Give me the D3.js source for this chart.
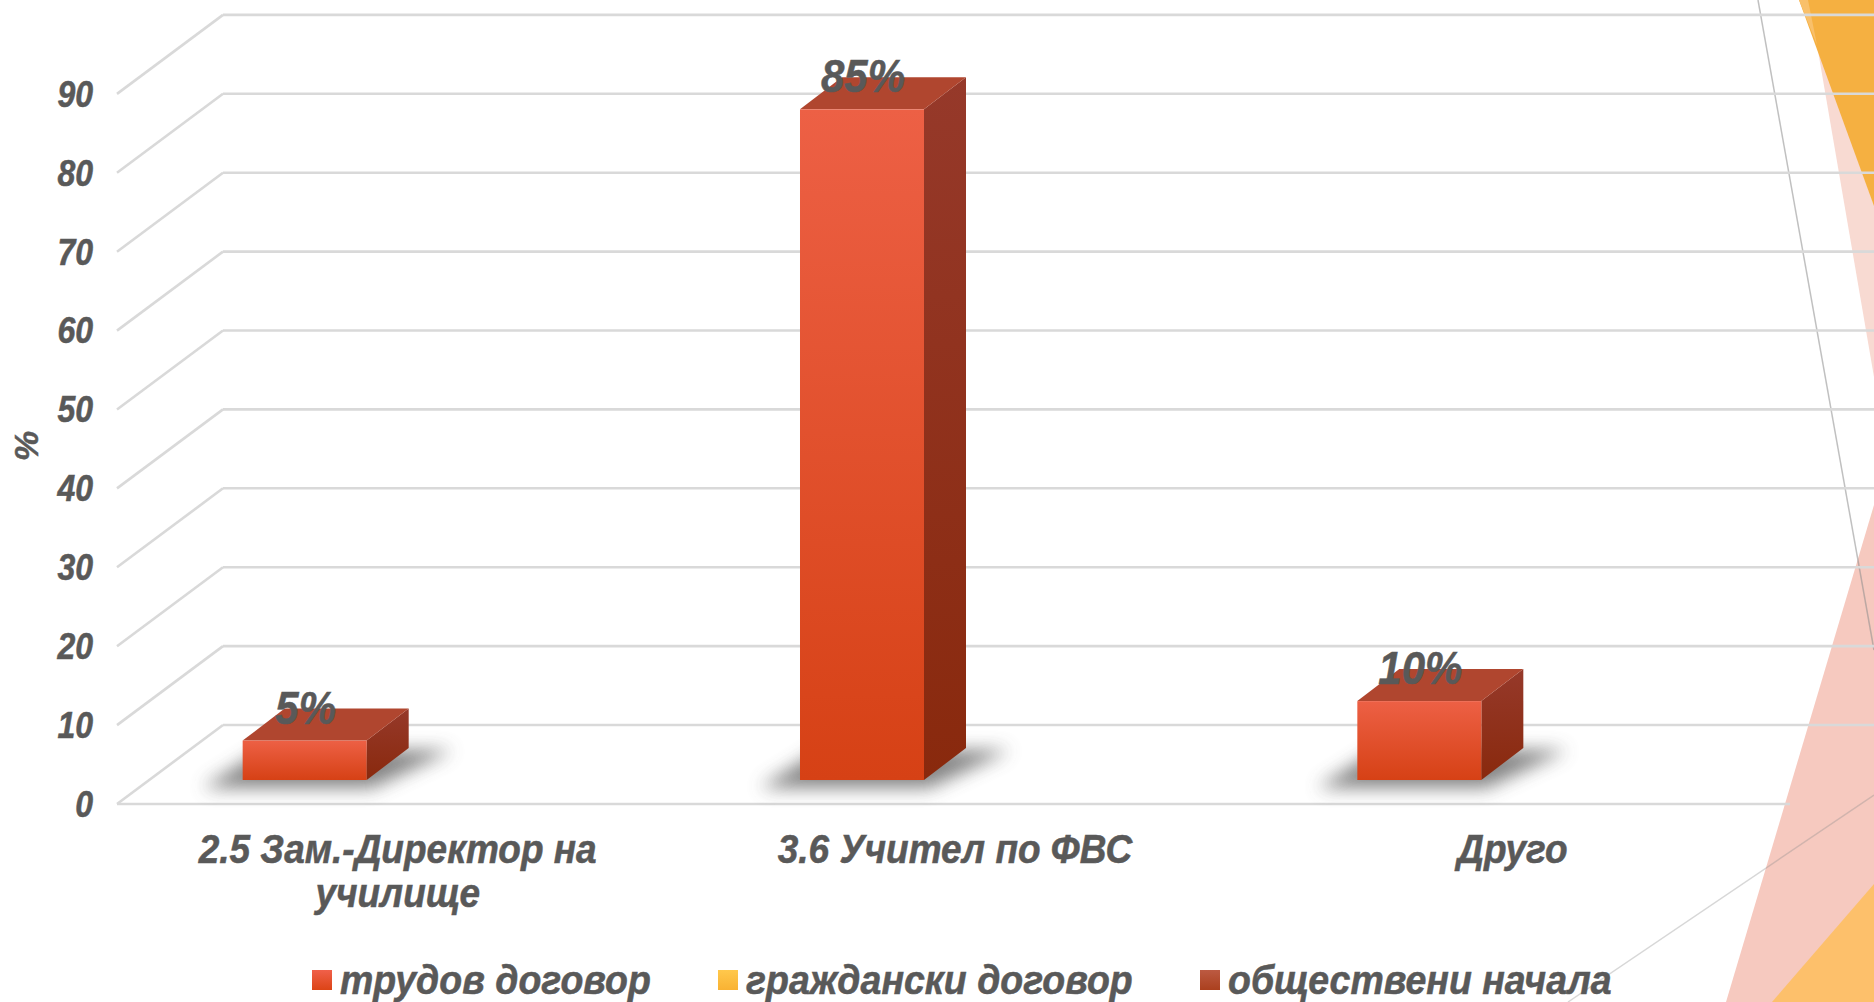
<!DOCTYPE html>
<html>
<head>
<meta charset="utf-8">
<script src="https://cdn.jsdelivr.net/npm/d3@7"></script>
<style>
  body { margin: 0; background: #fff; }
  text { font-family: "Liberation Sans", Arial, sans-serif; font-weight: bold; font-style: italic; fill: #595959; stroke: #595959; stroke-width: 0.5px; }
</style>
</head>
<body>
<svg id="chart" width="1874" height="1002"></svg>
<script>
const categories = [['2.5 Зам.-Директор на', 'училище'], ['3.6 Учител по ФВС'], ['Друго']];
const categoryKeys = ['2.5', '3.6', 'other'];
const seriesNames = ['трудов договор', 'граждански договор', 'обществени начала'];
const trudov = [5, 85, 10];
const grazhdanski = [0, 0, 0];
const obshtestveni = [0, 0, 0];
const tickValues = [0, 10, 20, 30, 40, 50, 60, 70, 80, 90];

const width = 1874, height = 1002;
const depthX = 106, depthY = 79;   // floor depth of the 3d box
const barDx = 42, barDy = 32;      // depth of one bar
const barShift = -93, barLift = 24; // bars sit left of the label, inside the floor

const svg = d3.select('#chart');

const xScale = d3.scaleBand().domain(categoryKeys).range([119, 1791]).paddingInner(0.7775).paddingOuter(0.38875);
const yScale = d3.scaleLinear().domain([0, 100]).range([804, 15]);

// gradients
const defs = svg.append('defs');
function grad(id, x2, y2, c1, c2) {
  const g = defs.append('linearGradient').attr('id', id).attr('x1', 0).attr('y1', 0).attr('x2', x2).attr('y2', y2);
  g.append('stop').attr('offset', '0%').attr('stop-color', c1);
  g.append('stop').attr('offset', '100%').attr('stop-color', c2);
}
grad('front0', 0, 1, '#ED6045', '#D64115');
grad('side0', 0, 1, '#96392A', '#89290D');
grad('sw0', 0, 1, '#F0604A', '#DC4416');
grad('sw1', 0, 1, '#FFC84C', '#F9B233');
grad('sw2', 0, 1, '#BC5A42', '#AB401E');
defs.append('filter').attr('id', 'blur').attr('x', '-30%').attr('y', '-60%').attr('width', '160%').attr('height', '220%')
  .append('feGaussianBlur').attr('stdDeviation', 9);

// slide background shapes
const bg = svg.append('g');
function poly(pts, fill) { bg.append('polygon').attr('points', pts.join(' ')).attr('fill', fill); }
poly([[1817, 45], [1874, 205], [1874, 377]], '#F8DAD2');
poly([[1799, 0], [1874, 0], [1874, 206]], '#F5B041');
poly([[1799, 0], [1808, 0], [1817, 45]], '#F9C06A');
poly([[1874, 505], [1726, 1002], [1874, 1002]], '#F6C9BF');
poly([[1874, 884], [1772, 1002], [1874, 1002]], '#FDC06B');
bg.append('line').attr('x1', 1758).attr('y1', 0).attr('x2', 1874).attr('y2', 650)
  .attr('stroke', '#8c8c8c').attr('stroke-opacity', 0.55).attr('stroke-width', 1.5);
bg.append('line').attr('x1', 1874).attr('y1', 795).attr('x2', 1568).attr('y2', 1002)
  .attr('stroke', '#8c8c8c').attr('stroke-opacity', 0.35).attr('stroke-width', 1.5);

// grid: left wall diagonals, back wall lines and the floor front edge
const grid = svg.append('g').attr('stroke', '#D9D9D9').attr('stroke-width', 2.6).attr('fill', 'none');
const x0 = 117;
tickValues.forEach((t) => {
  grid.append('line').attr('x1', x0).attr('y1', yScale(t)).attr('x2', x0 + depthX).attr('y2', yScale(t) - depthY);
  grid.append('line').attr('x1', x0 + depthX).attr('y1', yScale(t) - depthY).attr('x2', width).attr('y2', yScale(t) - depthY);
});
grid.append('line').attr('x1', x0).attr('y1', yScale(0)).attr('x2', 1790).attr('y2', yScale(0));

// y axis
const yAxis = d3.axisLeft(yScale).tickValues(tickValues).tickSize(0).tickPadding(0);
const yG = svg.append('g').attr('transform', 'translate(93,2)').call(yAxis);
yG.select('.domain').remove();
yG.selectAll('text').attr('font-size', 32).attr('transform', 'scale(1,1.15)').attr('dy', '0.28em').attr('fill', null);
yG.attr('font-family', null);

svg.append('text').attr('transform', 'translate(38,446) rotate(-90)').attr('text-anchor', 'middle')
  .attr('font-size', 34).text('%');

// bars
const bars = svg.append('g');
const bw = xScale.bandwidth();
categoryKeys.forEach((k, i) => {
  const x = xScale(k) + barShift;
  const yBase = yScale(0) - barLift;
  const yTop = yScale(trudov[i]) - barLift;
  // floor shadow
  bars.append('polygon')
    .attr('points', [[x - 40, yBase + 8], [x + bw + 5, yBase + 8], [x + bw + barDx + 44, yBase - barDy + 2], [x + 20, yBase - barDy + 2]].join(' '))
    .attr('fill', '#555').attr('opacity', 0.72).attr('filter', 'url(#blur)');
  bars.append('polygon')
    .attr('points', [[x + bw, yBase], [x + bw + barDx, yBase - barDy], [x + bw + barDx, yTop - barDy], [x + bw, yTop]].join(' '))
    .attr('fill', 'url(#side0)');
  bars.append('polygon')
    .attr('points', [[x, yTop], [x + bw, yTop], [x + bw + barDx, yTop - barDy], [x + barDx, yTop - barDy]].join(' '))
    .attr('fill', '#B0462F');
  bars.append('rect').attr('x', x).attr('y', yTop).attr('width', bw).attr('height', yBase - yTop)
    .attr('fill', 'url(#front0)');
});

// value labels
svg.append('g').selectAll('text').data(trudov).join('text')
  .attr('transform', (d, i) => `translate(${xScale(categoryKeys[i]) + barShift + bw / 2 + 1},${yScale(d) - barLift - 17}) scale(1,1.12)`)
  .attr('text-anchor', 'middle').attr('font-size', 42)
  .text((d) => d + '%');

// category labels
const catG = svg.append('g');
categories.forEach((lines, i) => {
  lines.forEach((l, j) => {
    catG.append('text')
      .attr('transform', `translate(${xScale(categoryKeys[i]) + bw / 2},${863 + j * 44}) scale(1,1.08)`)
      .attr('text-anchor', 'middle').attr('font-size', 37)
      .text(l);
  });
});

// legend
const legendX = [312, 718, 1200];
const legend = svg.append('g');
seriesNames.forEach((name, i) => {
  legend.append('rect').attr('x', legendX[i]).attr('y', 970).attr('width', 20).attr('height', 20).attr('fill', `url(#sw${i})`);
  legend.append('text').attr('transform', `translate(${legendX[i] + 28},994) scale(1,1.1)`).attr('font-size', 37.5).text(name);
});
</script>
</body>
</html>
